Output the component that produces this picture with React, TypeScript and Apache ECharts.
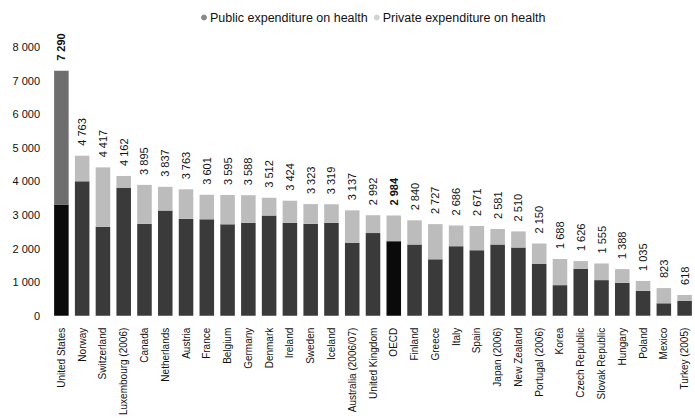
import React, { useEffect, useRef } from "react";
import * as echarts from "echarts";

const categories = [
  "United States", "Norway", "Switzerland", "Luxembourg (2006)", "Canada", "Netherlands",
  "Austria", "France", "Belgium", "Germany", "Denmark", "Ireland", "Sweden", "Iceland",
  "Australia (2006/07)", "United Kingdom", "OECD", "Finland", "Greece", "Italy", "Spain",
  "Japan (2006)", "New Zealand", "Portugal (2006)", "Korea", "Czech Republic",
  "Slovak Republic", "Hungary", "Poland", "Mexico", "Turkey (2005)",
];

const totalValues = [
  7290, 4763, 4417, 4162, 3895, 3837, 3763, 3601, 3595, 3588, 3512, 3424, 3323, 3319,
  3137, 2992, 2984, 2840, 2727, 2686, 2671, 2581, 2510, 2150, 1688, 1626, 1555, 1388,
  1035, 823, 618,
];

const publicValues = [
  3310, 4000, 2650, 3800, 2740, 3130, 2890, 2870, 2720, 2770, 2980, 2770, 2740, 2770,
  2170, 2460, 2220, 2120, 1680, 2070, 1950, 2120, 2030, 1540, 910, 1400, 1060, 980,
  740, 370, 440,
];

const privateValues = totalValues.map((t, i) => t - publicValues[i]);

const yTicks = [0, 1000, 2000, 3000, 4000, 5000, 6000, 7000, 8000];

const fmt = (v: number) => {
  const s = String(Math.round(v));
  return s.length > 3 ? s.slice(0, s.length - 3) + " " + s.slice(-3) : s;
};

const FONT = "Liberation Sans";

export default function App() {
  const ref = useRef<HTMLDivElement>(null);
  useEffect(() => {
    if (!ref.current) return;
    const chart = echarts.init(ref.current, undefined, { renderer: "svg" });
    const isSpecial = (name: string) => name === "United States" || name === "OECD";
    chart.setOption({
      animation: false,
      backgroundColor: "#ffffff",
      textStyle: { fontFamily: FONT },
      legend: {
        top: 6,
        left: 196,
        itemGap: 6,
        itemWidth: 6,
        itemHeight: 6,
        icon: "circle",
        textStyle: { fontFamily: FONT, fontSize: 12.5, color: "#111", padding: [0, 0, 0, -2] },
        data: [
          { name: "Public expenditure on health", itemStyle: { color: "#8a8a8a" } },
          { name: "Private expenditure on health", itemStyle: { color: "#d2d2d2" } },
        ],
      },
      grid: { left: 51, top: 47, width: 648, height: 275, containLabel: false },
      xAxis: {
        type: "category",
        data: categories,
        axisLine: { show: false },
        axisTick: { show: false },
        axisLabel: {
          rotate: 90,
          interval: 0,
          fontFamily: FONT,
          fontSize: 10,
          color: "#111",
          margin: 12,
        },
      },
      yAxis: {
        type: "value",
        min: 0,
        max: 8000,
        interval: 1000,
        splitLine: { show: false },
        axisLine: { show: false },
        axisTick: { show: false },
        axisLabel: {
          fontFamily: FONT,
          fontSize: 11,
          color: "#111",
          margin: 11,
          formatter: (v: number) => (yTicks.includes(v) ? fmt(v) : ""),
        },
      },
      series: [
        {
          name: "Public expenditure on health",
          type: "bar",
          stack: "total",
          barCategoryGap: "30%",
          data: publicValues.map((v, i) => ({
            value: v,
            itemStyle: { color: isSpecial(categories[i]) ? "#0a0a0a" : "#3a3a3a" },
          })),
        },
        {
          name: "Private expenditure on health",
          type: "bar",
          stack: "total",
          barCategoryGap: "30%",
          data: privateValues.map((v, i) => ({
            value: v,
            itemStyle: {
              color: categories[i] === "United States" ? "#6e6e6e" : "#bcbcbc",
            },
            label: {
              fontWeight: isSpecial(categories[i]) ? "bold" : "normal",
            },
          })),
          label: {
            show: true,
            position: "top",
            rotate: 90,
            align: "left",
            verticalAlign: "middle",
            distance: 10,
            fontFamily: FONT,
            fontSize: 11,
            color: "#111",
            formatter: (p: any) => fmt(totalValues[p.dataIndex]),
          },
        },
      ],
    });
    return () => chart.dispose();
  }, []);
  return <div ref={ref} style={{ width: 695, height: 418, position: "absolute", left: 0, top: 0 }} />;
}
